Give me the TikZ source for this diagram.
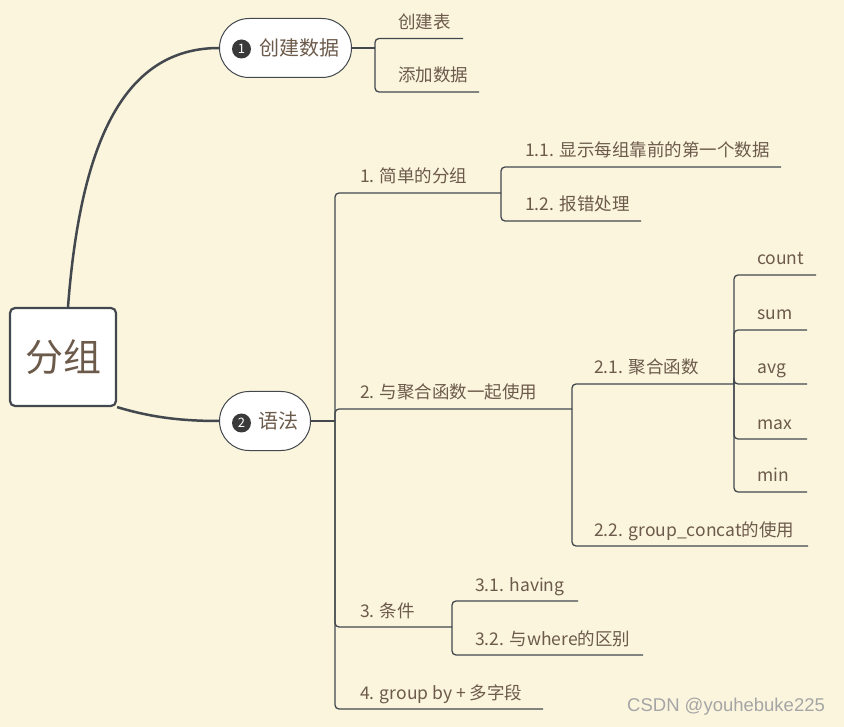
\documentclass[tikz,border=0pt]{standalone}
\usepackage{fontspec}
\setmainfont{Noto Sans CJK SC}
\newfontfamily\wmfont{Liberation Sans}
\usetikzlibrary{shapes.misc,calc}
\pgfdeclarelayer{back}
\pgfsetlayers{back,main}
\definecolor{bg}{RGB}{251,245,222}
\definecolor{ln}{RGB}{66,72,77}
\definecolor{tx}{RGB}{108,90,74}
\definecolor{dk}{RGB}{58,58,58}
\definecolor{wm}{RGB}{165,165,165}
\begin{document}
\begin{tikzpicture}[x=1pt,y=-1pt,
 leaf/.style={anchor=base west, inner sep=0pt, text=tx, font=\fontsize{17.5}{20}\selectfont},
 br/.style={draw=ln, line width=1.3pt, rounded corners=4pt},
 curve/.style={draw=ln, line width=2.5pt},
 pill/.style={rounded rectangle, draw=ln, line width=1pt, fill=white, minimum height=59pt, inner sep=0pt, text=tx, font=\fontsize{20}{24}\selectfont},
 numc/.style={circle, fill=dk, text=white, minimum size=19pt, inner sep=0pt, font=\fontsize{13}{13}\selectfont},
 rootbox/.style={draw=ln, line width=2.2pt, fill=white, rounded corners=5pt, minimum width=106pt, minimum height=98pt, text=tx, font=\fontsize{38}{40}\selectfont},
 wmark/.style={anchor=west, text=wm, inner sep=0pt, font=\wmfont\fontsize{18.5}{20}\selectfont}
]
\begin{pgfonlayer}{back}
\fill[bg] (0,0) rectangle (844,727);
\end{pgfonlayer}
\useasboundingbox (0,0) rectangle (844,727);

% root and main nodes
\node[rootbox] (root) at (63,357) {分组};
\node[pill, minimum width=132pt] (p1) at (285.5,48) {\hspace*{27pt}创建数据};
\node[pill, minimum width=91pt] (p2) at (265,421) {\hspace*{26pt}语法};
\node[numc] (c1) at (241.5,49) {1};
\node[numc] (c2) at (241.5,423) {2};

% curves (behind the nodes)
\begin{pgfonlayer}{back}
\draw[curve] ($(root.north)+(5,0)$) .. controls (80,150) and (120,48) .. (p1.west);
\draw[curve] (root.south east) .. controls (150,417) and (180,421) .. (p2.west);
\end{pgfonlayer}

% branch 1
\coordinate (j1) at (375,48);
\draw[br] (p1.east) -- (j1);
\node[leaf] (a1) at (398,28.5) {创建表}; \coordinate (a1e) at (463,38.5);
\node[leaf] (a2) at (398,82) {添加数据}; \coordinate (a2e) at (479,92);
\draw[br] (j1) |- (a1e);
\draw[br] (j1) |- (a2e);

% branch 2
\coordinate (j2) at (335,421);
\draw[br] (p2.east) -- (j2);
\node[leaf] (b1) at (360,183) {1. 简单的分组}; \coordinate (j11) at (501,193);
\node[leaf] (b11) at (525,157) {1.1. 显示每组靠前的第一个数据}; \coordinate (b11e) at (781,167);
\node[leaf] (b12) at (525,211) {1.2. 报错处理}; \coordinate (b12e) at (641,221);
\draw[br] (j2) |- (j11);
\draw[br] (j11) |- (b11e);
\draw[br] (j11) |- (b12e);

\node[leaf] (b2) at (360,399) {2. 与聚合函数一起使用}; \coordinate (j21) at (572,409);
\node[leaf] (b21) at (594,374) {2.1. 聚合函数}; \coordinate (j211) at (734,384);
\node[leaf] (cnt) at (757,265) {count}; \coordinate (cnte) at (816,275);
\node[leaf] (sum) at (757,320) {sum}; \coordinate (sume) at (807,330);
\node[leaf] (avg) at (757,374) {avg}; \coordinate (avge) at (807,384);
\node[leaf] (max) at (757,429) {max}; \coordinate (maxe) at (807,439);
\node[leaf] (min) at (757,482) {min}; \coordinate (mine) at (807,492);
\node[leaf] (b22) at (594,536) {2.2. group\_concat的使用}; \coordinate (b22e) at (808,546);
\draw[br] (j2) |- (j21);
\draw[br] (j21) |- (j211);
\draw[br] (j21) |- (b22e);
\draw[br] (j211) |- (cnte);
\draw[br] (j211) |- (sume);
\draw[br] (j211) |- (avge);
\draw[br] (j211) |- (maxe);
\draw[br] (j211) |- (mine);

\node[leaf] (b3) at (360,617) {3. 条件}; \coordinate (j3) at (452,627);
\node[leaf] (b31) at (475,591) {3.1. having}; \coordinate (b31e) at (578,601);
\node[leaf] (b32) at (475,645) {3.2. 与where的区别}; \coordinate (b32e) at (643,655);
\draw[br] (j2) |- (j3);
\draw[br] (j3) |- (b31e);
\draw[br] (j3) |- (b32e);

\node[leaf] (b4) at (360,699) {4. group by + 多字段}; \coordinate (b4e) at (543,709);
\draw[br] (j2) |- (b4e);

\node[wmark] (wm) at (627,707) {CSDN @youhebuke225};
\end{tikzpicture}
\end{document}
